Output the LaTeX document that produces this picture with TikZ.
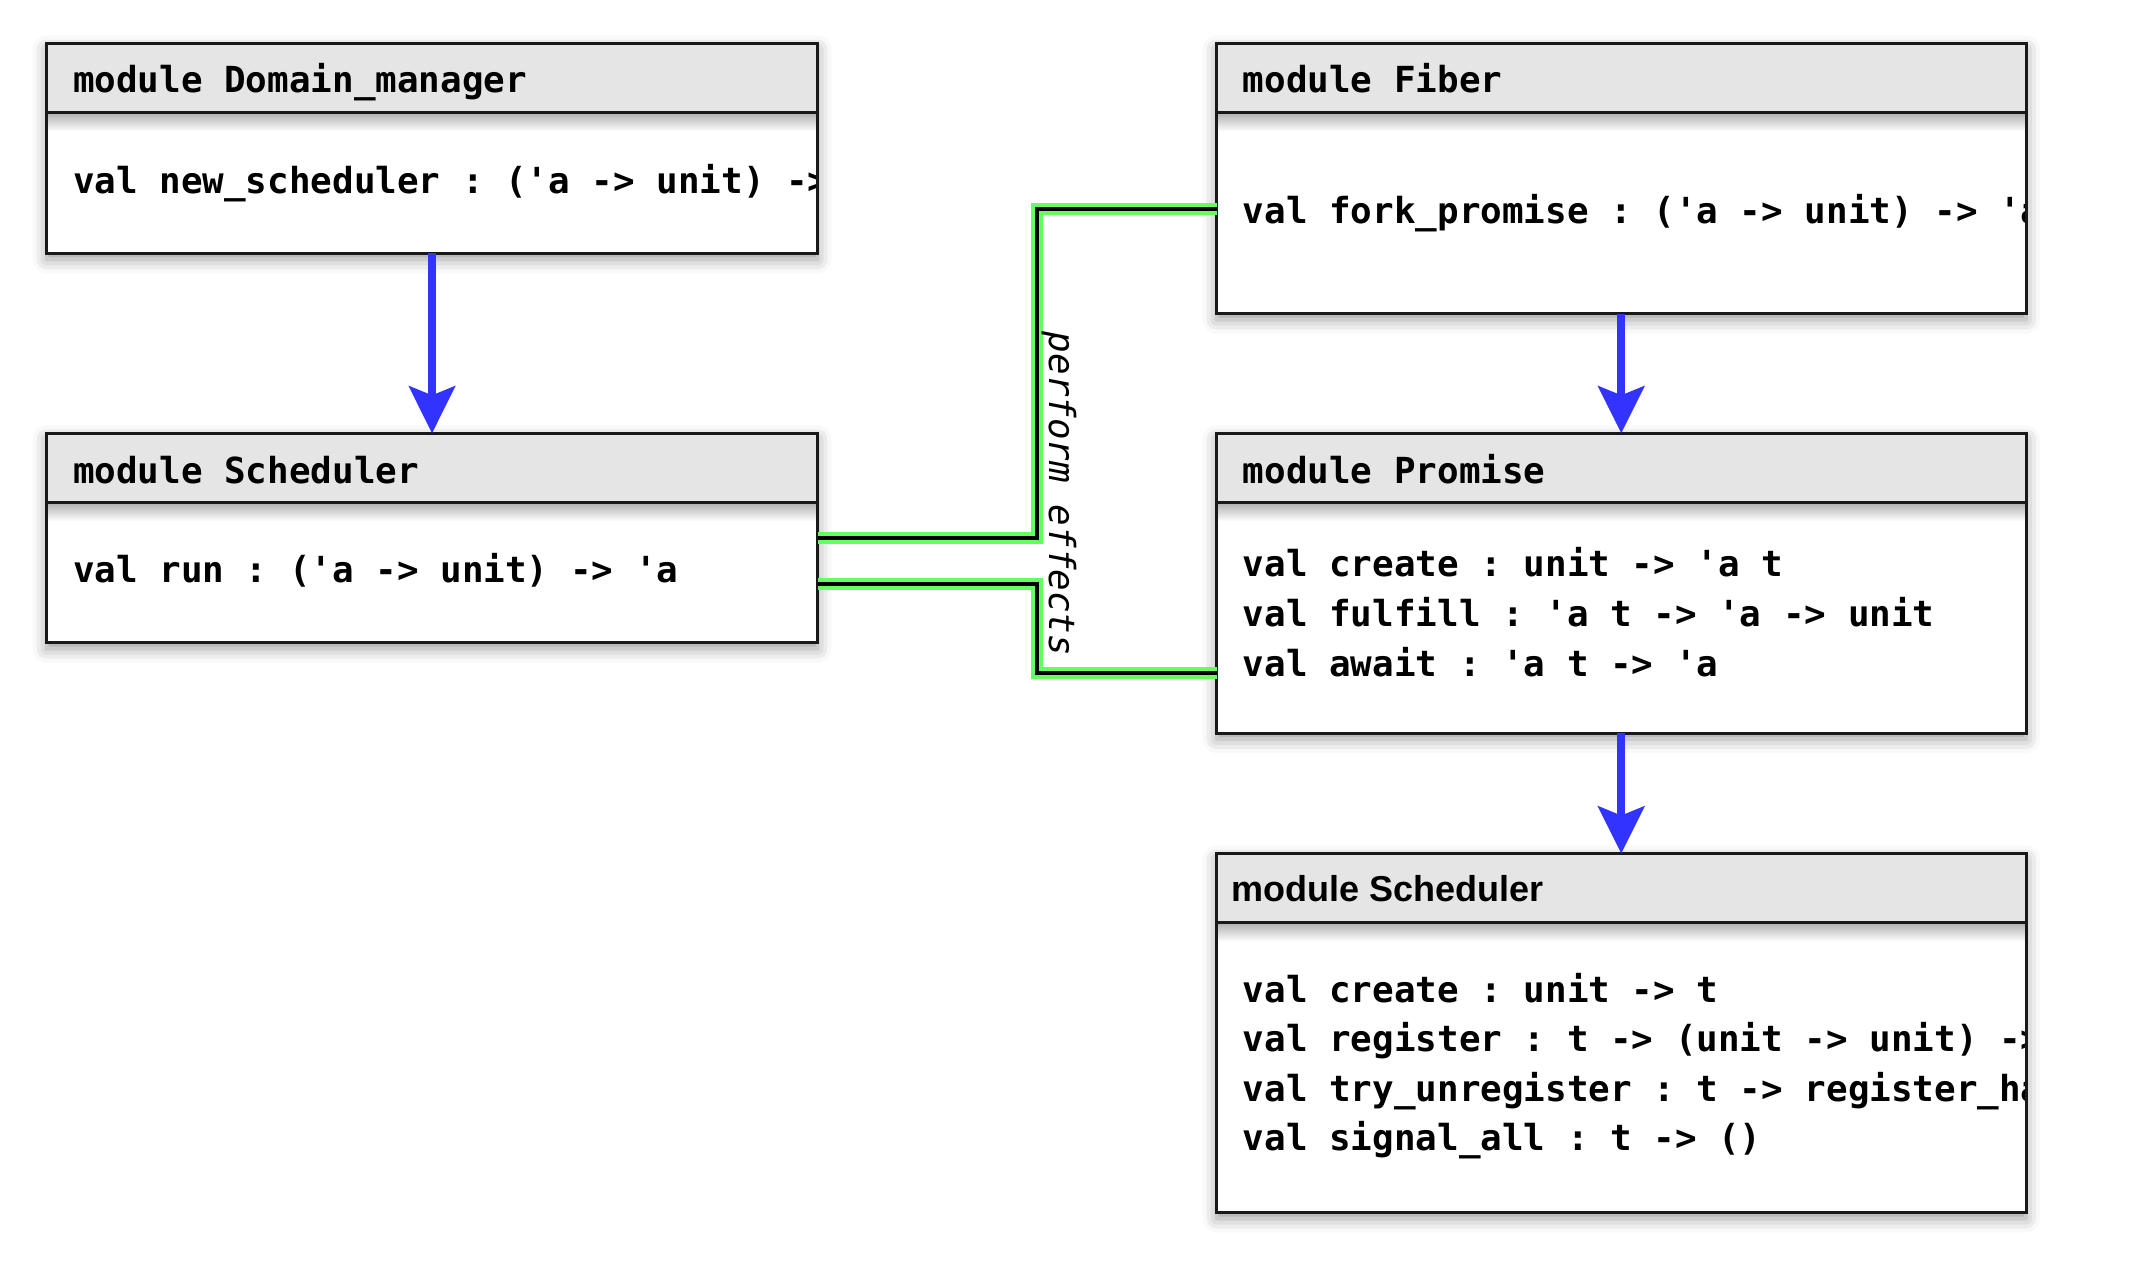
\documentclass[tikz,border=0pt]{standalone}
\usepackage{fontspec}
\newfontfamily\monof{DejaVu Sans Mono}[Ligatures=TeXOff]
\newfontfamily\sansf{Liberation Sans}[Ligatures=TeXOff]
\usetikzlibrary{arrows.meta,shadows.blur,calc}
\definecolor{hdrgray}{RGB}{229,229,229}
\definecolor{arrblue}{RGB}{51,51,255}
\definecolor{glowgreen}{RGB}{100,255,100}
\tikzset{
  boxbg/.style={anchor=north west, fill=white, inner sep=0pt, outer sep=0pt,
    blur shadow={shadow xshift=0pt, shadow yshift=-3pt, shadow blur radius=7pt, shadow opacity=40}},
  txt/.style={anchor=mid west, inner sep=0pt, font=\fontsize{17.95}{24.75}\selectfont\frenchspacing\monof\bfseries},
  sanshdr/.style={anchor=mid west, inner sep=0pt, font=\fontsize{18}{24.75}\selectfont\frenchspacing\sansf\bfseries},
  lbl/.style={inner sep=0pt, font=\fontsize{17.95}{24.75}\selectfont\frenchspacing\monof\itshape},
  flow/.style={draw=arrblue, line width=4pt, -{Stealth[length=23.5pt,width=23pt,inset=4.5pt]}},
  conn/.style={draw=black, line width=2pt, preaction={draw=glowgreen, line width=6pt}},
  border/.style={draw=black!90, line width=1.5pt}
}
\begin{document}
\begin{tikzpicture}[x=0.5pt,y=-0.5pt]
\useasboundingbox (0,0) rectangle (2148,1269);
% boxes
\node[boxbg, minimum width=385.45pt, minimum height=104.9pt] (b1) at (46.6,43.5) {};
\node[boxbg, minimum width=385.45pt, minimum height=104.7pt] (b2) at (46.6,433.3) {};
\node[boxbg, minimum width=404.75pt, minimum height=135.1pt] (b3) at (1216.5,43.5) {};
\node[boxbg, minimum width=404.75pt, minimum height=149.85pt] (b4) at (1216.5,433.3) {};
\node[boxbg, minimum width=404.75pt, minimum height=179.5pt] (b5) at (1216.5,853.5) {};
\foreach \b in {b1,b2,b3,b4,b5}{
  \fill[hdrgray] (\b.north west) rectangle ($(\b.north east)+(0,68.7)$);
  \shade[top color=black!32, bottom color=white] ($(\b.north west)+(0,68.7)$) rectangle ($(\b.north east)+(0,88)$);
}
% texts
\begin{scope}
\clip (b1.north west) rectangle (b1.south east);
\node[txt] (t1h) at (72.7,88.5) {module Domain\_manager};
\node[txt] (t1b) at (72.7,189) {val new\_scheduler : ('a -> unit) ->};
\end{scope}
\node[txt] (t2h) at (72.7,479) {module Scheduler};
\node[txt] (t2b) at (72.7,578) {val run : ('a -> unit) -> 'a};
\begin{scope}
\clip (b3.north west) rectangle (b3.south east);
\node[txt] (t3h) at (1242.5,88.5) {module Fiber};
\node[txt] (t3b) at (1242.5,219) {val fork\_promise : ('a -> unit) -> 'a};
\end{scope}
\node[txt] (t4h) at (1242.5,479) {module Promise};
\node[txt] (t4a) at (1242.5,572.5) {val create : unit -> 'a t};
\node[txt] (t4b) at (1242.5,622.5) {val fulfill : 'a t -> 'a -> unit};
\node[txt] (t4c) at (1242.5,672) {val await : 'a t -> 'a};
\node[sanshdr] (t5h) at (1231.5,897) {module Scheduler};
\begin{scope}
\clip (b5.north west) rectangle (b5.south east);
\node[txt] (t5a) at (1242.5,998) {val create : unit -> t};
\node[txt] (t5b) at (1242.5,1047.5) {val register : t -> (unit -> unit) ->};
\node[txt] (t5c) at (1242.5,1097) {val try\_unregister : t -> register\_ha};
\node[txt] (t5d) at (1242.5,1146) {val signal\_all : t -> ()};
\end{scope}
% borders
\foreach \b in {b1,b2,b3,b4,b5}{
  \draw[border] ($(\b.north west)+(0,68.7)$) -- ($(\b.north east)+(0,68.7)$);
  \draw[border] (\b.north west) rectangle (\b.south east);
}
% arrows
\draw[flow] (b1.south) -- (b2.north);
\draw[flow] (b3.south) -- (b4.north);
\draw[flow] (b4.south) -- (b5.north);
% effect connectors
\coordinate (xm) at (1036.7,0);
\coordinate (e3) at ($(b3.north west)+(0,165.8)$);
\coordinate (e2) at ($(b2.north east)+(0,150.7)$);
\coordinate (e4) at ($(b4.north west)+(0,239.4)$);
\draw[conn] (b2.east) -- (xm |- b2.east) -- (xm |- e3) -- (e3);
\draw[conn] (e2) -- (xm |- e2) -- (xm |- e4) -- (e4);
\node[lbl, rotate=-90, anchor=base] (pe) at (1049,494) {perform effects};
\end{tikzpicture}
\end{document}
